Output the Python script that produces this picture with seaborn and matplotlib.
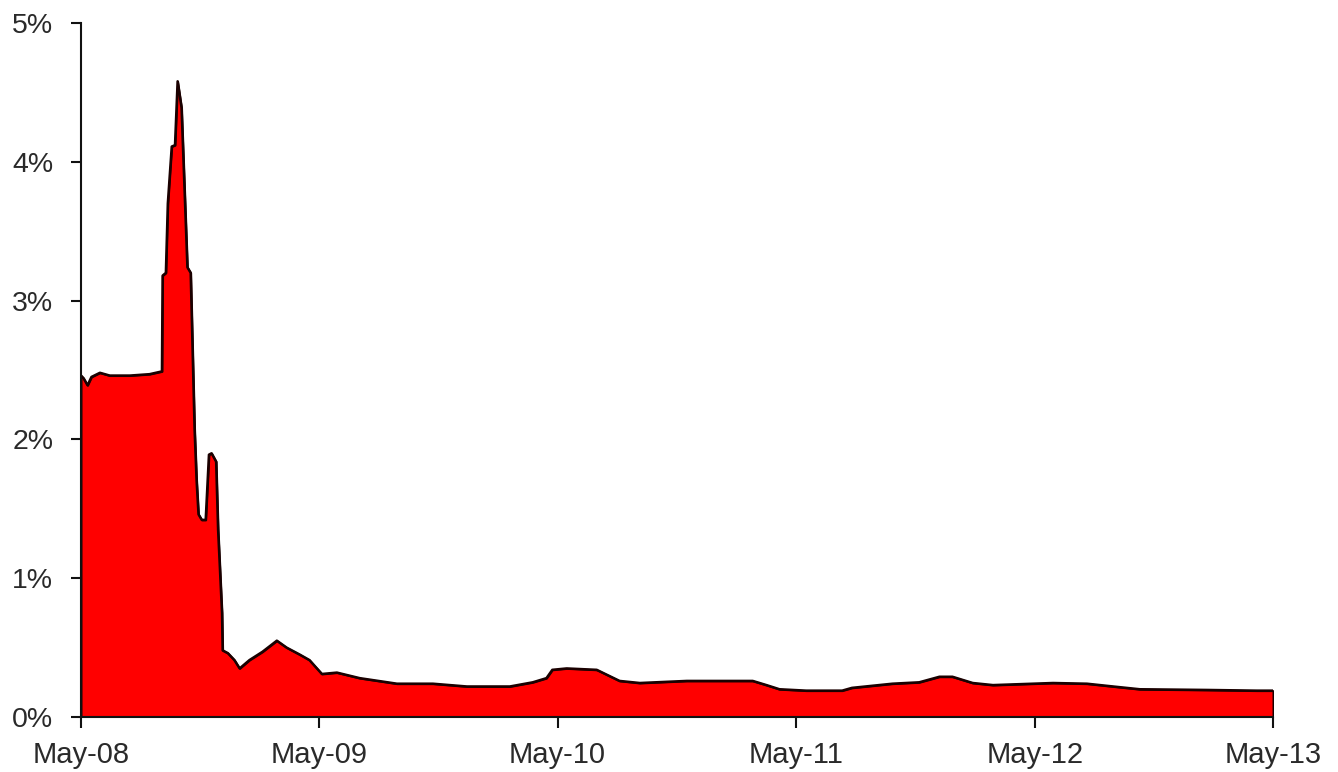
import numpy as np
import pandas as pd
import matplotlib
matplotlib.use("Agg")
import matplotlib.pyplot as plt
import matplotlib.dates as mdates
from matplotlib.ticker import FuncFormatter
import seaborn as sns

dates = [
    "2008-05-01", "2008-05-05", "2008-05-11", "2008-05-17", "2008-05-30", "2008-06-14",
    "2008-07-15", "2008-08-14", "2008-09-02", "2008-09-03", "2008-09-08", "2008-09-11",
    "2008-09-17", "2008-09-22", "2008-09-26", "2008-10-02", "2008-10-11", "2008-10-16",
    "2008-10-22", "2008-10-25", "2008-10-28", "2008-11-02", "2008-11-08", "2008-11-13",
    "2008-11-17", "2008-11-24", "2008-11-27", "2008-12-03", "2008-12-04", "2008-12-12",
    "2008-12-22", "2008-12-30", "2009-01-14", "2009-02-03", "2009-02-25", "2009-03-12",
    "2009-04-01", "2009-04-16", "2009-05-05", "2009-05-28", "2009-07-02", "2009-08-28",
    "2009-10-22", "2009-12-13", "2010-02-17", "2010-03-24", "2010-04-14", "2010-04-23",
    "2010-05-15", "2010-06-30", "2010-08-04", "2010-09-04", "2010-11-15", "2011-02-24",
    "2011-03-17", "2011-04-06", "2011-05-17", "2011-07-11", "2011-07-26", "2011-09-26",
    "2011-11-06", "2011-12-07", "2011-12-27", "2012-01-27", "2012-02-27", "2012-05-29",
    "2012-07-20", "2012-08-29", "2012-10-09", "2013-01-20", "2013-04-06", "2013-05-01",
]
values = [
    2.46, 2.44, 2.39, 2.45, 2.48, 2.46,
    2.46, 2.47, 2.49, 3.18, 3.20, 3.70,
    4.11, 4.12, 4.58, 4.39, 3.24, 3.20,
    2.07, 1.71, 1.46, 1.42, 1.42, 1.89,
    1.90, 1.84, 1.35, 0.75, 0.48, 0.46,
    0.41, 0.35, 0.41, 0.47, 0.55, 0.50,
    0.45, 0.41, 0.31, 0.32, 0.28, 0.24,
    0.24, 0.22, 0.22, 0.25, 0.28, 0.34,
    0.35, 0.34, 0.26, 0.245, 0.26, 0.26,
    0.23, 0.20, 0.19, 0.19, 0.21, 0.24,
    0.25, 0.29, 0.29, 0.245, 0.23, 0.245,
    0.24, 0.22, 0.20, 0.195, 0.19, 0.19,
]
y_ticks = [0, 1, 2, 3, 4, 5]
x_tick_dates = ["2008-05-01", "2009-05-01", "2010-05-01", "2011-05-01", "2012-05-01", "2013-05-01"]

df = pd.DataFrame({"date": pd.to_datetime(dates), "value": values})

sns.set_style("ticks")
plt.rcParams["font.family"] = ["Liberation Sans", "DejaVu Sans"]

fig = plt.figure(figsize=(13.38, 7.72), dpi=100)
ax = fig.add_axes([81 / 1338, 1 - 717 / 772, (1273 - 81) / 1338, (717 - 23) / 772])

ax.fill_between(df["date"], 0, df["value"], facecolor="#ff0000",
                edgecolor="#1a0000", linewidth=1.4, zorder=1)
sns.lineplot(data=df, x="date", y="value", ax=ax, color="#1a0000", linewidth=1.8, zorder=2)

ax.set_xlim(pd.Timestamp("2008-05-01"), pd.Timestamp("2013-05-01"))
ax.set_ylim(0, 5)
ax.set_yticks(y_ticks)
ax.yaxis.set_major_formatter(FuncFormatter(lambda v, p: f"{int(v)}%"))
ax.set_xticks(pd.to_datetime(x_tick_dates))
ax.xaxis.set_major_formatter(mdates.DateFormatter("%b-%y"))
ax.set_xlabel("")
ax.set_ylabel("")

for s in ["top", "right"]:
    ax.spines[s].set_visible(False)
for s in ["left", "bottom"]:
    ax.spines[s].set_linewidth(1.5)
    ax.spines[s].set_color("#111111")
    ax.spines[s].set_zorder(3)

ax.tick_params(axis="y", length=7, width=1.5, pad=13, labelsize=20.5, labelcolor="#2a2a2a", color="#111111")
ax.tick_params(axis="x", length=8, width=1.5, pad=9, labelsize=21, labelcolor="#2a2a2a", color="#111111")

fig.savefig("out.png", dpi=100, facecolor="white")
